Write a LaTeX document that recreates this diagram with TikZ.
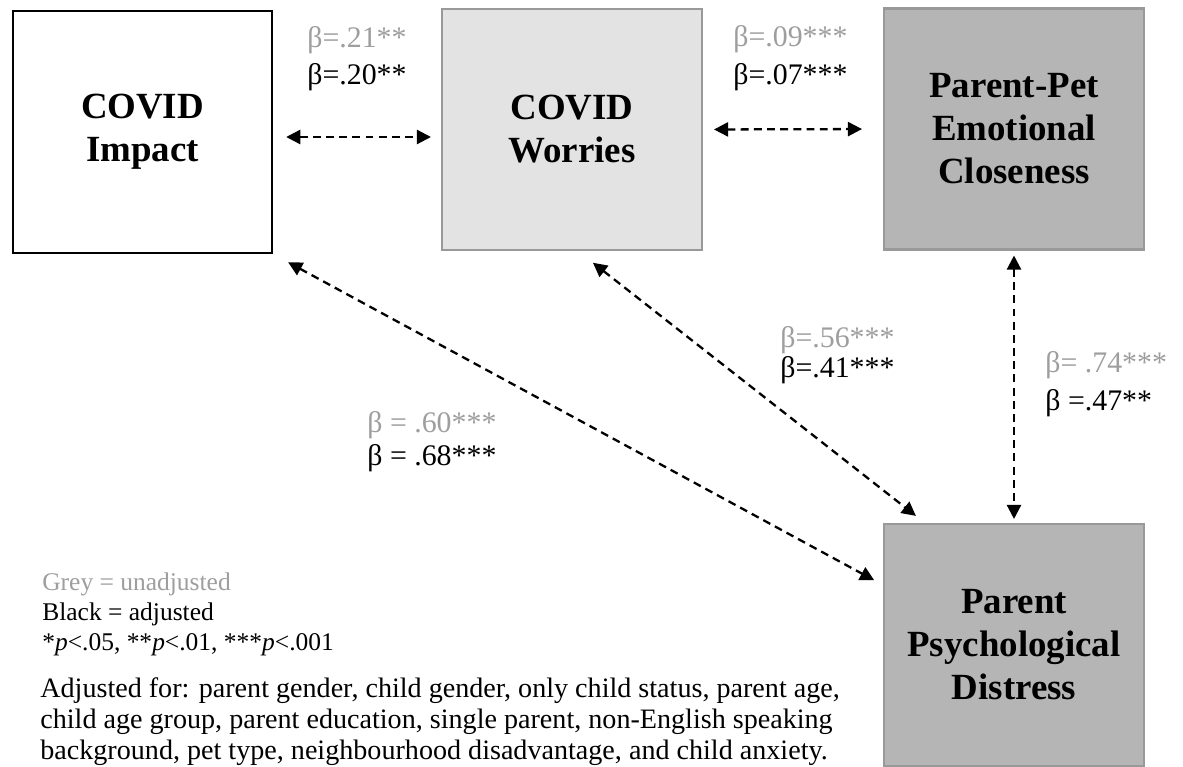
\documentclass[tikz,border=0pt]{standalone}
\usepackage{fontspec}
\setmainfont{Liberation Serif}
\usetikzlibrary{arrows.meta}

\definecolor{greytext}{HTML}{9E9E9E}
\definecolor{lightfill}{HTML}{E3E3E3}
\definecolor{darkfill}{HTML}{B5B5B5}
\definecolor{boxedge}{HTML}{999999}

\tikzset{
  factor/.style = {minimum width = 5.2cm, minimum height = 4.82cm, align = center, inner sep = 0pt,
    font = \fontsize{21}{24.5}\selectfont\bfseries},
  link/.style = {{Triangle[length = 8pt, width = 8pt]}-{Triangle[length = 8pt, width = 8pt]},
    line width = 1.3pt, dash pattern = on 4.5pt off 3pt},
  beta/.style = {anchor = base west, inner sep = 0pt, font = \fontsize{17}{20}\selectfont},
  note/.style = {anchor = base west, inner sep = 0pt, align = left, font = \fontsize{16}{17.6}\selectfont}
}

\begin{document}
\begin{tikzpicture}[x = 0.02cm, y = -0.02cm]
    \useasboundingbox (0, 0) rectangle (1183, 767);
    \node[factor, draw = black, line width = 1.4pt, fill = white, minimum width = 5.18cm, minimum height = 4.84cm] (impact) at (142.5, 132) {COVID \\ Impact};
    \node[factor, draw = boxedge, line width = 1.2pt, fill = lightfill] (worries) at (572, 129.5) {COVID \\ Worries};
    \node[factor, draw = boxedge, line width = 1.2pt, fill = darkfill] (closeness) at (1014, 129) {Parent-Pet \\ Emotional \\ Closeness};
    \node[factor, draw = boxedge, line width = 1.2pt, fill = darkfill, minimum height = 4.84cm] (distress) at (1014, 645) {Parent \\ Psychological \\ Distress};
    \draw[link, shorten <= 0.26cm, shorten >= 0.2cm] ([yshift = -0.1cm]impact.east) -- ([yshift = -0.1cm]impact.east -| worries.west);
    \draw[link, shorten <= 0.22cm, shorten >= 0.42cm] (worries.east) -- (closeness.west);
    \draw[link, shorten <= 0.34cm, shorten >= 0.2cm] (impact.south east) -- ([yshift = 1.2cm]distress.west);
    \draw[link, shorten <= 0.38cm, shorten >= 0.23cm] ([xshift = 0.12cm]worries.south) -- ([xshift = 0.84cm]distress.north west);
    \draw[link, shorten <= 0.1cm, shorten >= 0.08cm] (closeness.south) -- (distress.north);
    \node[beta, greytext] (impact worries grey) at (307, 48) {β=.21**};
    \node[beta] (impact worries black) at (307, 85) {β=.20**};
    \node[beta, greytext] (worries closeness grey) at (733, 47) {β=.09***};
    \node[beta] (worries closeness black) at (733, 85) {β=.07***};
    \node[beta, greytext] (worries distress grey) at (780, 347) {β=.56***};
    \node[beta] (worries distress black) at (780, 377) {β=.41***};
    \node[beta, greytext] (closeness distress grey) at (1045, 372) {β= .74***};
    \node[beta] (closeness distress black) at (1045, 410) {β =.47**};
    \node[beta, greytext] (impact distress grey) at (367, 432) {β = .60***};
    \node[beta] (impact distress black) at (367, 465) {β = .68***};
    \node[note, font = \fontsize{14.5}{17}\selectfont] (legend) at (42, 650) {\textcolor{greytext}{Grey = unadjusted} \\ Black = adjusted \\ *\textit{p}<.05, **\textit{p}<.01, ***\textit{p}<.001};
    \node[note] (adjusted) at (40, 759) {Adjusted for: parent gender, child gender, only child status, parent age, \\ child age group, parent education, single parent, non-English speaking \\ background, pet type, neighbourhood disadvantage, and child anxiety.};
\end{tikzpicture}
\end{document}
